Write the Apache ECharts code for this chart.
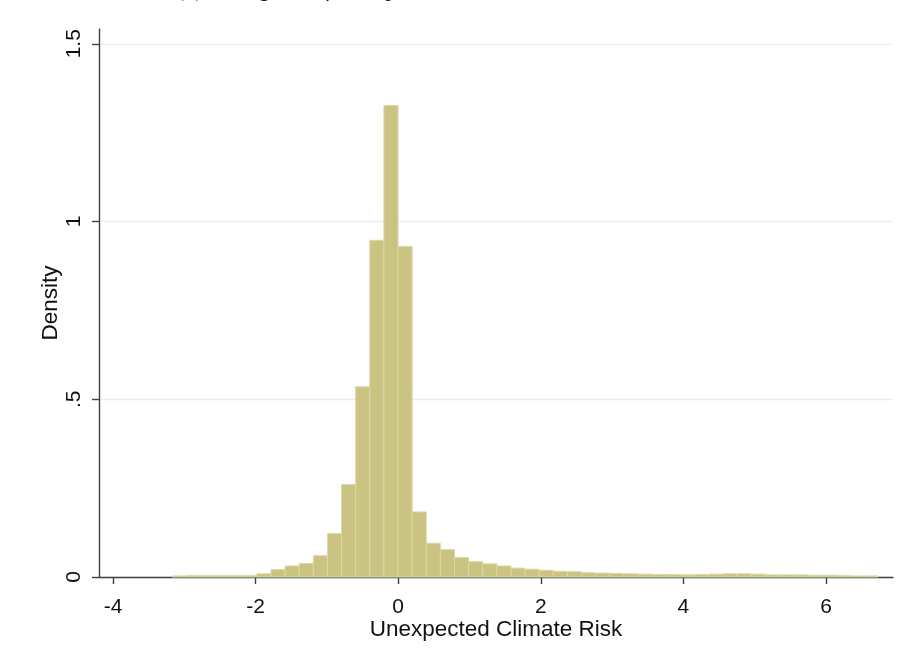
<!DOCTYPE html>
<html>
<head>
<meta charset="utf-8">
<script src="https://cdn.jsdelivr.net/npm/echarts@6/dist/echarts.min.js"></script>
<style>
html,body{margin:0;padding:0;background:#fff;}
#chart{width:902px;height:659px;}
</style>
</head>
<body>
<div id="chart"></div>
<script>
// Histogram bins (Stata-style): start, width, density per bin
const binStart = -3.17;
const binWidth = 0.198;
const density = [
  0.003, 0.004, 0.004, 0.004, 0.004, 0.004, 0.009, 0.021, 0.031, 0.038,
  0.060, 0.122, 0.260, 0.535, 0.947, 1.326, 0.930, 0.183, 0.095, 0.077,
  0.055, 0.043, 0.037, 0.031, 0.025, 0.022, 0.019, 0.016, 0.015, 0.012,
  0.011, 0.010, 0.009, 0.008, 0.007, 0.007, 0.006, 0.007, 0.008, 0.009,
  0.009, 0.008, 0.006, 0.006, 0.006, 0.005, 0.005, 0.004, 0.003, 0.003
];
const xTicks = [-4, -2, 0, 2, 4, 6];
const yTicks = [0, 0.5, 1, 1.5];
const yTickLabels = ['0', '.5', '1', '1.5'];
const xTitle = 'Unexpected Climate Risk';
const yTitle = 'Density';
const captionText = '(a) Histogram of Unexpected Climate Risk';

const bins = density.map((d, i) => [binStart + i * binWidth, binStart + (i + 1) * binWidth, d]);

const FONT = '"Liberation Sans", Arial, sans-serif';
const chart = echarts.init(document.getElementById('chart'), null, {renderer: 'canvas'});
chart.setOption({
  animation: false,
  backgroundColor: '#ffffff',
  grid: {left: 99, right: 9, top: 29, bottom: 82, containLabel: false},
  xAxis: {
    type: 'value',
    min: -4.196,
    max: 6.94,
    name: xTitle,
    nameLocation: 'middle',
    nameGap: 41,
    nameMoveOverlap: false,
    nameTextStyle: {fontFamily: FONT, fontSize: 22.5, color: '#111'},
    axisLine: {show: true, onZero: false, lineStyle: {color: '#404040', width: 1.4}},
    axisTick: {show: true, length: 7, customValues: xTicks, lineStyle: {color: '#404040', width: 1.4}},
    axisLabel: {customValues: xTicks, margin: 20, fontFamily: FONT, fontSize: 21, color: '#111',
      formatter: v => String(v)},
    splitLine: {show: false}
  },
  yAxis: {
    type: 'value',
    min: 0,
    max: 1.5415,
    name: yTitle,
    nameLocation: 'middle',
    nameGap: 37,
    nameMoveOverlap: false,
    nameRotate: 90,
    nameTextStyle: {fontFamily: FONT, fontSize: 22.5, color: '#111'},
    axisLine: {show: true, onZero: false, lineStyle: {color: '#404040', width: 1.4}},
    axisTick: {show: true, length: 7, customValues: yTicks, lineStyle: {color: '#404040', width: 1.4}},
    axisLabel: {customValues: yTicks, rotate: 90, margin: 14, fontFamily: FONT, fontSize: 21, color: '#111',
      formatter: v => { const i = yTicks.findIndex(t => Math.abs(t - v) < 1e-9); return i >= 0 ? yTickLabels[i] : ''; }},
    splitLine: {show: true, customValues: yTicks, lineStyle: {color: '#e6eff1', width: 1.3}}
  },
  graphic: [{
    type: 'text',
    left: 178,
    top: -22,
    style: {text: captionText, font: 'italic 23px "Liberation Serif", "Times New Roman", serif', fill: '#111'}
  }],
  series: [{
    type: 'custom',
    data: bins,
    encode: {x: [0, 1], y: 2},
    renderItem: function (params, api) {
      const p0 = api.coord([api.value(0), api.value(2)]);
      const p1 = api.coord([api.value(1), 0]);
      return {
        type: 'rect',
        shape: {x: p0[0], y: p0[1], width: p1[0] - p0[0], height: p1[1] - p0[1]},
        style: {fill: '#cac381', stroke: '#dcd8a6', lineWidth: 1}
      };
    },
    z: 3
  }]
});
</script>
</body>
</html>
